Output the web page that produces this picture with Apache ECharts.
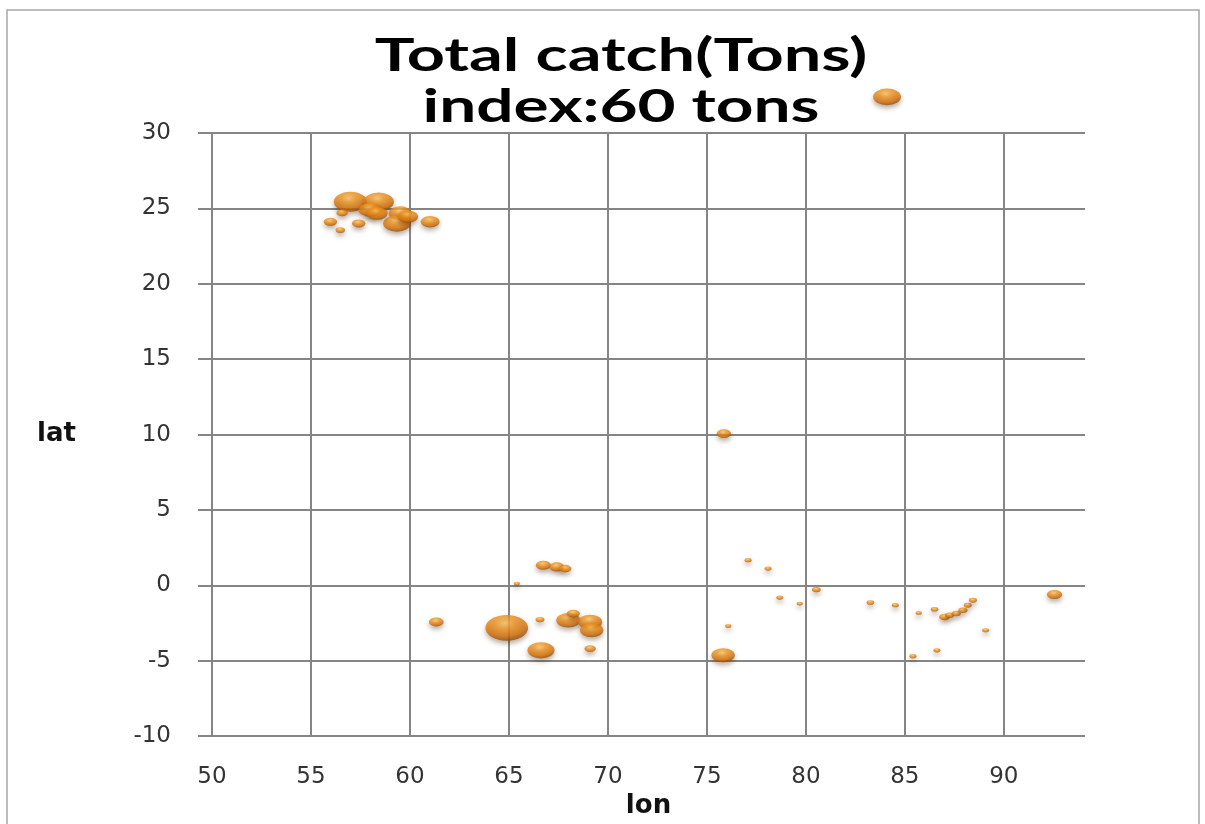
<!DOCTYPE html>
<html>
<head>
<meta charset="utf-8">
<script src="https://cdn.jsdelivr.net/npm/echarts@6/dist/echarts.min.js"></script>
<style>
  html, body { margin: 0; padding: 0; background: #fff; }
  #chart { width: 1205px; height: 824px; }
</style>
</head>
<body>
<div id="chart"></div>
<script>
// ---- data ----
const titleLines = ["Total catch(Tons)", "index:60 tons"];
const xTicks = [50, 55, 60, 65, 70, 75, 80, 85, 90];
const yTicks = [-10, -5, 0, 5, 10, 15, 20, 25, 30];

const lon = [56.99, 58.42, 58.0, 59.51, 59.34, 59.9, 61.02, 55.98, 56.48, 57.41, 56.57, 58.33,
             61.33, 64.89, 65.4, 66.57, 66.62, 66.74, 67.42, 67.84, 68.0, 68.25, 69.1, 69.18, 69.1,
             75.86, 77.08, 78.09, 78.68, 79.69, 80.53, 76.08, 75.82,
             83.26, 84.52, 85.7, 86.5, 87.0, 87.26, 87.6, 87.93, 88.18, 88.44, 89.08, 86.62, 85.41, 92.56];
const lat = [25.44, 25.44, 24.9, 24.67, 24.0, 24.45, 24.11, 24.11, 23.56, 24.0, 24.7, 24.67,
             -2.43, -2.82, 0.12, -2.27, -4.31, 1.33, 1.22, 1.11, -2.32, -1.87, -2.43, -2.98, -4.2,
             10.06, 1.67, 1.11, -0.81, -1.21, -0.28, -2.69, -4.64,
             -1.14, -1.32, -1.83, -1.59, -2.1, -1.98, -1.87, -1.65, -1.32, -0.99, -2.98, -4.31, -4.7, -0.61];
const catchTons = [85, 72, 42, 42, 58, 32, 28, 14, 7, 14, 10, 36,
                   17, 141, 3, 6, 56, 18, 18, 12, 45, 13, 45, 42, 10,
                   16, 3.8, 3.8, 3.8, 3, 6, 3, 42,
                   4.5, 3.8, 3, 4.5, 9, 6.5, 6.5, 6.5, 5, 5, 3.8, 3.8, 3.8, 18];

const indexLon = [84.1];
const indexLat = [32.4];
const indexTons = [60];

// ---- chart ----
const chart = echarts.init(document.getElementById('chart'));

const bubbleData = lon.map((x, i) => [x, lat[i], catchTons[i]]);
const indexData = indexLon.map((x, i) => [x, indexLat[i], indexTons[i]]);

const bubbleStyle = {
  color: {
    type: 'radial', x: 0.45, y: 0.32, r: 0.72,
    colorStops: [
      { offset: 0, color: '#fbc869' },
      { offset: 0.3, color: '#f19a26' },
      { offset: 0.7, color: '#d7720a' },
      { offset: 1, color: '#8a4504' }
    ]
  },
  shadowBlur: 5,
  shadowColor: 'rgba(60,30,0,0.45)',
  shadowOffsetY: 3
};
const sizeFn = (v) => { const w = 3.6 * Math.sqrt(v[2]); return [w, w * 0.6]; };

const gridColor = '#858585';
const tickFont = { fontFamily: 'DejaVu Sans', fontSize: 23, color: '#333333' };
const nameFont = { fontFamily: 'DejaVu Sans', fontWeight: 'bold', fontSize: 26, color: '#111' };

chart.setOption({
  animation: false,
  backgroundColor: '#ffffff',
  grid: { left: 212, top: 133, right: 120, bottom: 87, containLabel: false },
  xAxis: {
    type: 'value', min: xTicks[0], max: 94.1, interval: 5,
    axisLine: { show: false }, axisTick: { show: false },
    splitLine: { show: true, showMaxLine: false, lineStyle: { color: gridColor, width: 2 } },
    axisLabel: Object.assign({ margin: 29, showMaxLabel: false,
      formatter: (v) => xTicks.includes(v) ? String(v) : '' }, tickFont),
    name: 'lon', nameLocation: 'middle', nameGap: 54, nameTextStyle: nameFont
  },
  yAxis: {
    type: 'value', min: yTicks[0], max: yTicks[yTicks.length - 1], interval: 5,
    axisLine: { show: false },
    axisTick: { show: true, length: 14, lineStyle: { color: gridColor, width: 2 } },
    splitLine: { show: true, lineStyle: { color: gridColor, width: 2 } },
    axisLabel: Object.assign({ margin: 41 }, tickFont),
    name: 'lat', nameLocation: 'middle', nameRotate: 0, nameGap: 136,
    nameTextStyle: Object.assign({ align: 'right', verticalAlign: 'middle' }, nameFont)
  },
  graphic: [
    { type: 'rect', silent: true, z: -10,
      shape: { x: 7, y: 10, width: 1192, height: 840 },
      style: { fill: 'none', stroke: '#a6a6a6', lineWidth: 1.5 } },
    { type: 'text', x: 621, y: 56, scaleX: 1.48,
      style: { text: titleLines[0], font: 'bold 45px Lato', fill: '#000', align: 'center', verticalAlign: 'middle' } },
    { type: 'text', x: 621, y: 107, scaleX: 1.46,
      style: { text: titleLines[1], font: 'bold 45px Lato', fill: '#000', align: 'center', verticalAlign: 'middle' } }
  ],
  series: [
    { type: 'scatter', name: 'catch', data: bubbleData, symbol: 'circle', symbolSize: sizeFn,
      itemStyle: bubbleStyle, clip: false },
    { type: 'scatter', name: 'index', data: indexData, symbol: 'circle', symbolSize: sizeFn,
      itemStyle: bubbleStyle, clip: false }
  ]
});
</script>
</body>
</html>
